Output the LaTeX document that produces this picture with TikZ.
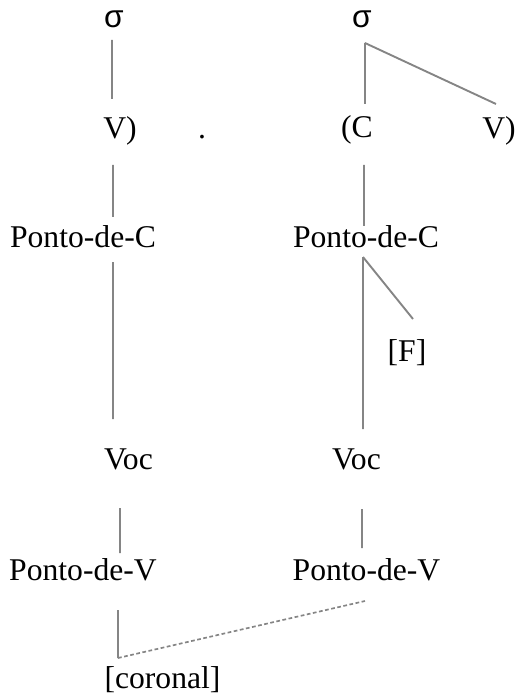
\documentclass[tikz,border=0pt]{standalone}
\usepackage{fontspec}
\setmainfont{Liberation Serif}
\newfontfamily\sigmafont{Liberation Sans}
\usetikzlibrary{positioning}
\definecolor{linegray}{rgb}{0.52,0.52,0.52}

\begin{document}
\begin{tikzpicture}[
  x=0.2mm, y=-0.2mm,
  every node/.style={
    anchor=base,
    inner sep=0mm,
    font=\fontsize{18}{21}\selectfont
  },
  tier line/.style={
    draw=linegray,
    line width=0.38mm
  },
  spread line/.style={
    draw=linegray,
    line width=0.34mm,
    dash pattern=on 0.75mm off 0.5mm
  }
]
\useasboundingbox (0,0) rectangle (518,697);

% syllable level
\node (sigL) at (114,28) {\sigmafont σ};
\node (sigR) at (362,28) {\sigmafont σ};

% segments
\node (vL)  at (120,139) {V)};
\node (dot) at (202,139) {.};
\node (cR)  at (357,138) {(C};
\node (vR)  at (499,139) {V)};

% place nodes
\node (pcL) at (83,248)  {Ponto-de-C};
\node (pcR) at (366,248) {Ponto-de-C};
\node (f)   at (407,361) {[F]};

\node (vocL) at (128.5,469) {Voc};
\node (vocR) at (356.5,469) {Voc};

\node (pvL) at (83,580)    {Ponto-de-V};
\node (pvR) at (366.5,580) {Ponto-de-V};

\node (cor) at (162.5,688) {[coronal]};

% association lines
\draw[tier line] ([xshift=-0.4mm, yshift=-2.4mm]sigL.base) -- ([xshift=-1.6mm, yshift=8mm]vL.base);
\draw[tier line] ([xshift=0.6mm, yshift=-3mm]sigR.base) -- ([xshift=1.6mm, yshift=6.8mm]cR.base);
\draw[tier line] ([xshift=0.6mm, yshift=-3mm]sigR.base) -- ([xshift=-0.6mm, yshift=7mm]vR.base);

\draw[tier line] ([xshift=-1.4mm, yshift=-5.2mm]vL.base) -- ([xshift=6mm, yshift=6.2mm]pcL.base);
\draw[tier line] ([xshift=1.4mm, yshift=-5.4mm]cR.base) -- ([xshift=-0.4mm, yshift=4.4mm]pcR.base);

\draw[tier line] ([xshift=6mm, yshift=-2.8mm]pcL.base) -- ([xshift=-3.1mm, yshift=10mm]vocL.base);
\draw[tier line] ([xshift=-0.6mm, yshift=-1.8mm]pcR.base) -- ([xshift=1.3mm, yshift=8mm]vocR.base);
\draw[tier line] ([xshift=-0.6mm, yshift=-1.8mm]pcR.base) -- ([xshift=1.2mm, yshift=8.4mm]f.base);

\draw[tier line] ([xshift=-1.7mm, yshift=-7.8mm]vocL.base) -- ([xshift=7.4mm, yshift=5.4mm]pvL.base);
\draw[tier line] ([xshift=1.1mm, yshift=-8mm]vocR.base) -- ([xshift=-0.9mm, yshift=6.4mm]pvR.base);

\draw[tier line] ([xshift=7mm, yshift=-6mm]pvL.base) -- ([xshift=-8.9mm, yshift=6mm]cor.base);

% spreading of [coronal]
\draw[spread line] ([xshift=-8.9mm, yshift=6mm]cor.base) -- ([xshift=-0.3mm, yshift=-4.2mm]pvR.base);

\end{tikzpicture}
\end{document}
